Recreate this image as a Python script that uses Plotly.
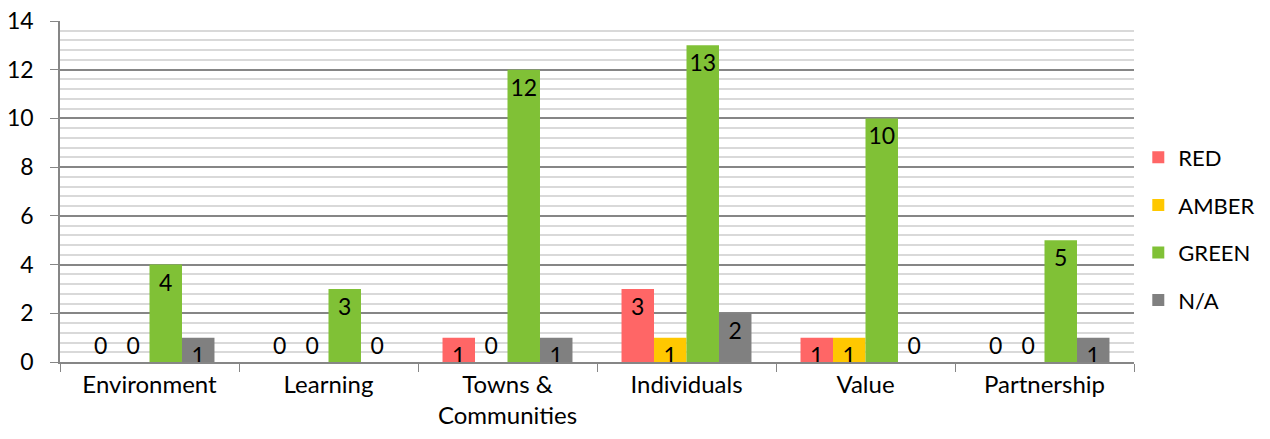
import plotly.graph_objects as go

categories = ["Environment", "Learning", "Towns &<br>Communities", "Individuals", "Value", "Partnership"]
red = [0, 0, 1, 3, 1, 0]
amber = [0, 0, 0, 1, 1, 0]
green = [4, 3, 12, 13, 10, 5]
na = [1, 0, 1, 2, 0, 1]

series = [("RED", red, "#FF6666"), ("AMBER", amber, "#FFC800"),
          ("GREEN", green, "#80C136"), ("N/A", na, "#808080")]

FONT = "Lato"
FS = 23
fig = go.Figure()
for i, (name, vals, col) in enumerate(series):
    fig.add_trace(go.Bar(
        name=name, x=categories, y=vals, marker_color=col,
        marker_line_width=0,
        text=[str(v) for v in vals],
        textposition=["outside" if v == 0 else "inside" for v in vals],
        insidetextanchor="end",
        textangle=0,
        constraintext="none",
        cliponaxis=False,
        textfont=dict(family=FONT, size=FS, color="black"),
        legendgroup=name,
    ))

fig.update_layout(
    width=1270, height=439,
    margin=dict(l=60, r=136, t=21, b=77, autoexpand=False),
    paper_bgcolor="white", plot_bgcolor="white",
    barmode="group", bargap=0.274, bargroupgap=0,
    font=dict(family=FONT, size=FS, color="black"),
    legend=dict(x=1.004, y=0.39, xanchor="left", yanchor="middle",
                font=dict(family=FONT, size=22), tracegroupgap=16,
                itemwidth=30),
    showlegend=True,
)
fig.update_xaxes(
    automargin=False,
    showline=True, linecolor="#868686", linewidth=1.5,
    ticks="outside", tickson="boundaries", ticklen=8, tickcolor="#868686",
    tickfont=dict(family=FONT, size=24), showgrid=False,
)
fig.update_yaxes(
    automargin=False, ticklabeloverflow="allow",
    range=[0, 14], dtick=2, showline=True, linecolor="#868686", linewidth=1.5,
    ticks="outside", ticklen=8, tickcolor="#868686",
    gridcolor="#868686", gridwidth=1.5,
    minor=dict(dtick=0.4, showgrid=True, gridcolor="#D9D9D9", gridwidth=1.5),
    tickfont=dict(family=FONT, size=FS), ticklabelstandoff=12,
    zeroline=False,
)
fig.write_html("out.html", config={"displayModeBar": False},
               post_script="document.body.style.margin='0';document.body.style.overflow='hidden';")
